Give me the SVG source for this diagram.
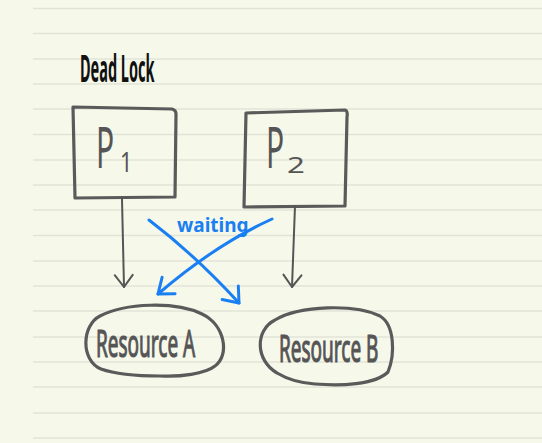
<svg xmlns="http://www.w3.org/2000/svg" width="542" height="443" viewBox="0 0 542 443">
<defs>
<style>
.rule{stroke:#e2e3d8;stroke-width:1.5}
.box{fill:none;stroke:#5a5a5a;stroke-width:3.2;stroke-linejoin:round;stroke-linecap:round}
.lbl{font-family:"Noto Sans",sans-serif;fill:#555}
.res{stroke:#555;stroke-width:0.6}
.gray{fill:none;stroke:#555;stroke-width:2;stroke-linecap:round}
.blue{fill:none;stroke:#1a7ff2;stroke-width:3;stroke-linecap:round}
</style>
<marker id="ag" markerUnits="userSpaceOnUse" markerWidth="30" markerHeight="30" refX="0" refY="0" viewBox="-15 -15 30 30" orient="auto">
<path d="M-12,-9 L0,0 L-12,9" fill="none" stroke="#555" stroke-width="2" stroke-linecap="round" stroke-linejoin="round"/>
</marker>
<marker id="ab" markerUnits="userSpaceOnUse" markerWidth="34" markerHeight="34" refX="0" refY="0" viewBox="-17 -17 34 34" orient="auto">
<path d="M-13,-11 L0,0 L-14,10" fill="none" stroke="#1a7ff2" stroke-width="3" stroke-linecap="round" stroke-linejoin="round"/>
</marker>
</defs>
<rect width="542" height="443" fill="#f6f8ea"/>
<g id="rules">
<path class="rule" d="M33,8.5H542M33,33.5H542M33,59H542M33,84H542M33,109H542M33,134.5H542M33,160H542M33,185H542M33,210H542M33,235.5H542M33,261H542M33,286H542M33,311H542M33,337H542M33,362H542M33,387H542M33,413H542M33,438H542"/>
</g>
<g id="title">
<text transform="translate(80,82) scale(1,2.6)" font-family="'Noto Sans',sans-serif" font-size="14.5" font-weight="bold" fill="#111">Dead Lock</text>
</g>
<g id="p1">
<path class="box" d="M73,107 L172,109 Q176,110 176,114 L175,197 L75,198 Z"/>
<text class="lbl" transform="translate(96,168) scale(1,1.9)" font-size="30">P</text>
<text class="lbl" transform="translate(120,172) scale(0.8,1)" font-size="27">1</text>
</g>
<g id="p2">
<path class="box" d="M246,113 L345,110 Q348,111 347,117 L345,206 L244,207 Z"/>
<text class="lbl" transform="translate(266,168) scale(1,1.9)" font-size="30">P</text>
<text class="lbl" transform="translate(287,173) scale(1.3,0.9)" font-size="24">2</text>
</g>
<g id="resA">
<path class="box" d="M101,369 C80,360 82,325 100,316 C125,303 175,301 202,314 C225,325 230,355 215,366 C205,374 180,377 160,376 C140,376 115,374 101,369 Z"/>
<text class="lbl res" transform="translate(96,357) scale(1,2)" font-size="19">Resource A</text>
</g>
<g id="resB">
<path class="box" d="M277,373 C255,360 255,330 275,320 C300,305 355,304 380,316 C395,325 395,355 388,372 C375,385 340,386 315,384 C300,383 287,379 277,373 Z"/>
<text class="lbl res" transform="translate(279,362) scale(1,2)" font-size="19">Resource B</text>
</g>
<g id="connectors">
<path class="gray" d="M122,199 L124,287" marker-end="url(#ag)"/>
<path class="gray" d="M295,206 L292,287" marker-end="url(#ag)"/>
<path class="blue" d="M149,220 Q195,255 239,303" marker-end="url(#ab)"/>
<path class="blue" d="M272,219 Q215,245 158,294" marker-end="url(#ab)"/>
<text x="177" y="232" font-family="'Noto Sans',sans-serif" font-size="19" font-weight="bold" fill="#1a7ff2">waiting</text>
</g>
</svg>
